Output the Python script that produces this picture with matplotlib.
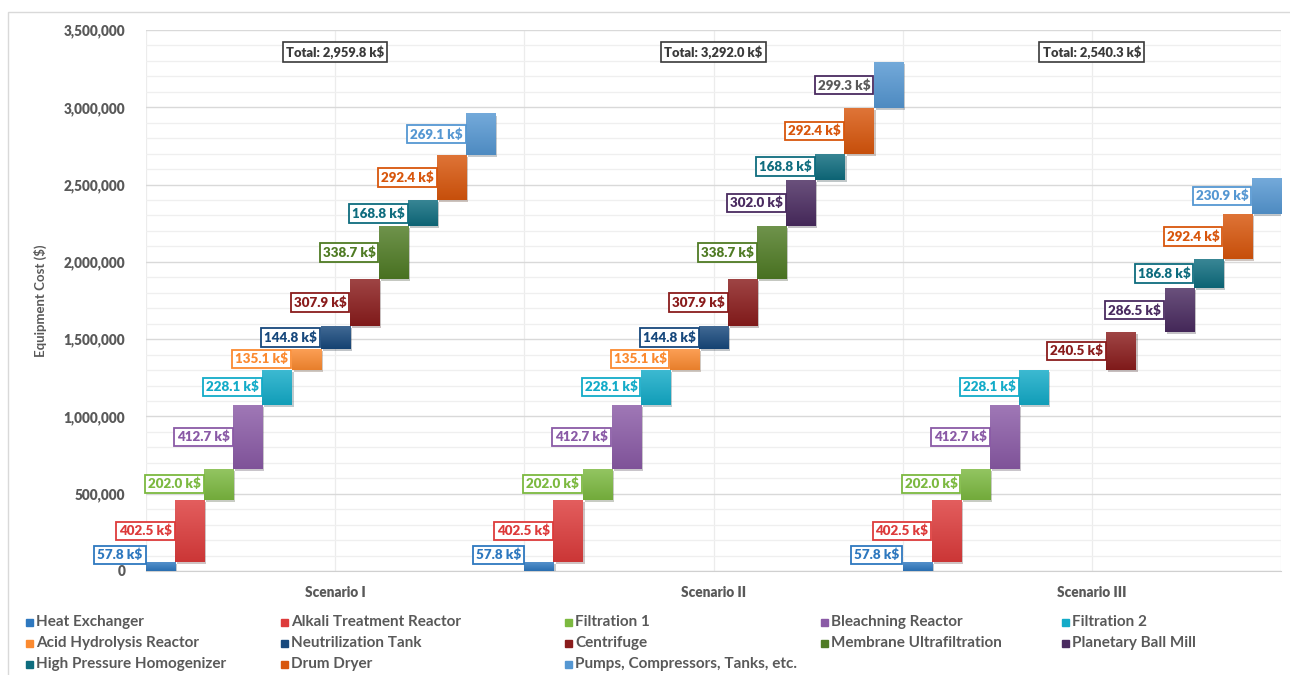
import numpy as np
import matplotlib
matplotlib.use("Agg")
import matplotlib.pyplot as plt
import matplotlib.colors as mcolors
from matplotlib.patches import Rectangle
import matplotlib.patheffects as pe

plt.rcParams['font.family'] = ['Lato', 'DejaVu Sans']

# components in legend order
components = ['Heat Exchanger', 'Alkali Treatment Reactor', 'Filtration 1',
              'Bleachning Reactor', 'Filtration 2', 'Acid Hydrolysis Reactor',
              'Neutrilization Tank', 'Centrifuge', 'Membrane Ultrafiltration',
              'Planetary Ball Mill', 'High Pressure Homogenizer', 'Drum Dryer',
              'Pumps, Compressors, Tanks, etc.']
colors = ['#2e78bf', '#dd3b3b', '#7cb940', '#8a5aa6', '#13abc8', '#fb8a30',
          '#17487c', '#8a1c1c', '#4f7b24', '#4a2b60', '#0e6c7e', '#d8560c',
          '#5597d2']

scenarios = ['Scenario I', 'Scenario II', 'Scenario III']
# equipment cost in k$ (None = not used in that scenario)
cost_s1 = [57.8, 402.5, 202.0, 412.7, 228.1, 135.1, 144.8, 307.9, 338.7, None, 168.8, 292.4, 269.1]
cost_s2 = [57.8, 402.5, 202.0, 412.7, 228.1, 135.1, 144.8, 307.9, 338.7, 302.0, 168.8, 292.4, 299.3]
cost_s3 = [57.8, 402.5, 202.0, 412.7, 228.1, None, None, 240.5, None, 286.5, 186.8, 292.4, 230.9]
costs = [cost_s1, cost_s2, cost_s3]
totals = [2959.8, 3292.0, 2540.3]
# bar slot within each scenario
slots_s1 = [0, 1, 2, 3, 4, 5, 6, 7, 8, None, 9, 10, 11]
slots_s2 = list(range(13))
slots_s3 = list(range(13))
slots = [slots_s1, slots_s2, slots_s3]

n_slots = 13
grey = '#595959'
wt = 'heavy'

fig = plt.figure(figsize=(12.9, 6.75), dpi=100)
ax = fig.add_axes([146 / 1290, 1 - 571 / 675, 1135 / 1290, 541 / 675])

# chart border
fig.add_artist(Rectangle((8 / 1290, -0.05), 1.2, 1 - 12 / 675 + 0.05,
                         transform=fig.transFigure, fill=False,
                         edgecolor='#d9d9d9', linewidth=1.0))

ax.set_xlim(0, n_slots * len(scenarios))
ax.set_ylim(0, 3500000)
ax.set_yticks(np.arange(0, 3500001, 500000))
ax.set_yticks(np.arange(0, 3500001, 100000), minor=True)
ax.yaxis.set_major_formatter(matplotlib.ticker.FuncFormatter(lambda v, p: f'{int(v):,}'))
ax.grid(axis='y', which='major', color='#d9d9d9', linewidth=1.0, zorder=0)
ax.grid(axis='y', which='minor', color='#efefef', linewidth=0.9, zorder=0)
for xv in np.arange(0, n_slots * len(scenarios) + 0.1, n_slots / 2):
    ax.axvline(xv, color='#ececec', linewidth=0.9, zorder=0)
ax.set_xticks([n_slots * i + n_slots / 2 for i in range(len(scenarios))])
ax.set_xticklabels(scenarios)
ax.tick_params(axis='both', which='both', length=0, labelsize=9.8, colors=grey)
ax.tick_params(axis='x', pad=11)
ax.tick_params(axis='y', pad=15)
for lab in ax.get_xticklabels() + ax.get_yticklabels():
    lab.set_fontweight(wt)
for s in ['top', 'right', 'left']:
    ax.spines[s].set_visible(False)
ax.spines['bottom'].set_color('#d0d0d0')
ax.set_ylabel('Equipment Cost ($)', fontsize=9.5, color=grey, fontweight='bold', labelpad=12)


def shade(c, f):
    r = np.array(mcolors.to_rgb(c))
    if f > 0:
        return r + (1 - r) * f
    return r * (1 + f)


for si, vals in enumerate(costs):
    base = 0.0
    for ci, v in enumerate(vals):
        if v is None:
            continue
        x0 = si * n_slots + slots[si][ci]
        col = colors[ci]
        bar = ax.bar(x0, v * 1000, width=1.0, bottom=base * 1000, align='edge',
                     color=col, zorder=3,
                     path_effects=[pe.SimplePatchShadow(offset=(1.5, -1.5), alpha=0.25),
                                   pe.Normal()])[0]
        grad = np.linspace(0, 1, 50)[:, None, None]
        top_c = shade(col, 0.18)
        bot_c = shade(col, -0.08)
        img = (bot_c * (1 - grad) + top_c * grad) * np.ones((50, 2, 3))
        im = ax.imshow(img, extent=(x0, x0 + 1, base * 1000, (base + v) * 1000),
                       origin='lower', aspect='auto', zorder=4, interpolation='bilinear')
        im.set_clip_path(bar)
        edge, tcol = col, col
        if si == 1 and ci == 12:
            edge, tcol = colors[9], grey
        ymid = max((base + v / 2) * 1000, 103000)
        ax.annotate(f'{v:.1f} k$', xy=(x0, ymid), xytext=(-2.4, 0),
                    textcoords='offset points', ha='right', va='center',
                    fontsize=9.6, fontweight=wt, color=tcol, zorder=6,
                    annotation_clip=False,
                    bbox=dict(boxstyle='square,pad=0.22', fc='white', ec=edge, lw=1.3))
        base += v
    ax.text(si * n_slots + n_slots / 2, 3355000, f'Total: {totals[si]:,.1f} k$',
            ha='center', va='center', fontsize=9.3, fontweight=wt, color='#3a3a3a',
            zorder=6,
            bbox=dict(boxstyle='square,pad=0.25', fc='white', ec='#3a3a3a', lw=1.2))

# legend, 5 columns x 3 rows
leg_x = [26, 281, 565, 821, 1062]
leg_y = [622, 643, 664]
for i, name in enumerate(components):
    px = leg_x[i % 5]
    py = leg_y[i // 5]
    fig.add_artist(Rectangle((px / 1290, 1 - (py + 3.5) / 675), 7 / 1290, 7 / 675,
                             transform=fig.transFigure, color=colors[i]))
    fig.text((px + 10) / 1290, 1 - py / 675, name, ha='left', va='center',
             fontsize=11, fontweight='bold', color=grey)

fig.savefig('out.png', dpi=100)
